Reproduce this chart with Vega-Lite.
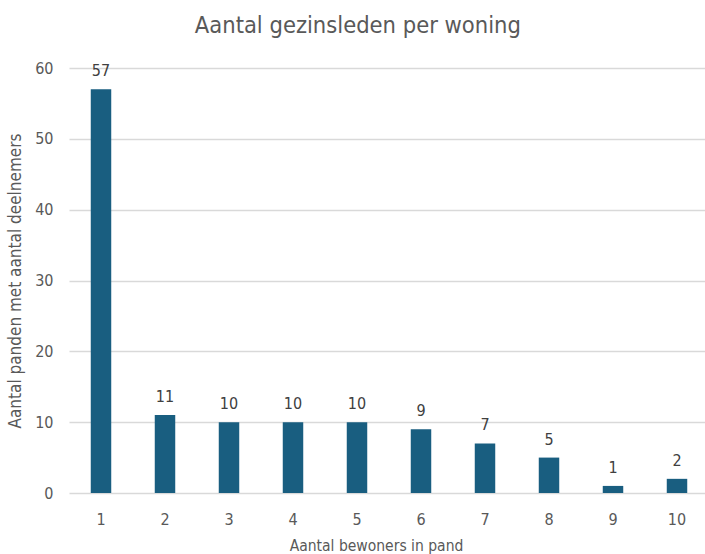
{
  "$schema": "https://vega.github.io/schema/vega-lite/v6.json",
  "width": 640,
  "height": 425,
  "autosize": "none",
  "padding": {"left": 69, "top": 68, "right": 0, "bottom": 61},
  "background": "white",
  "title": {
    "text": "Aantal gezinsleden per woning",
    "fontSize": 23.5,
    "font": "Liberation Sans Narrow, DejaVu Sans Condensed, sans-serif",
    "fontWeight": "normal",
    "color": "#595959",
    "anchor": "middle",
    "frame": "bounds",
    "offset": 23
  },
  "data": {
    "values": [
      {"bewoners": "1", "panden": 57},
      {"bewoners": "2", "panden": 11},
      {"bewoners": "3", "panden": 10},
      {"bewoners": "4", "panden": 10},
      {"bewoners": "5", "panden": 10},
      {"bewoners": "6", "panden": 9},
      {"bewoners": "7", "panden": 7},
      {"bewoners": "8", "panden": 5},
      {"bewoners": "9", "panden": 1},
      {"bewoners": "10", "panden": 2}
    ]
  },
  "encoding": {
    "x": {
      "field": "bewoners",
      "type": "ordinal",
      "sort": null,
      "title": "Aantal bewoners in pand",
      "scale": {"paddingInner": 0.68, "paddingOuter": 0.34},
      "axis": {
        "labelAngle": 0,
        "domain": false,
        "ticks": false,
        "labelPadding": 18,
        "labelFontSize": 16,
        "labelColor": "#595959",
        "labelFont": "Liberation Sans Narrow, DejaVu Sans Condensed, sans-serif",
        "titleFont": "Liberation Sans Narrow, DejaVu Sans Condensed, sans-serif",
        "titleFontSize": 15.5,
        "titleFontWeight": "normal",
        "titleColor": "#595959",
        "titlePadding": 11,
        "titleX": 307
      }
    },
    "y": {
      "field": "panden",
      "type": "quantitative",
      "title": "Aantal panden met aantal deelnemers",
      "scale": {"domain": [0, 60]},
      "axis": {
        "values": [0, 10, 20, 30, 40, 50, 60],
        "domain": false,
        "ticks": false,
        "labelPadding": 16,
        "labelFontSize": 16,
        "labelColor": "#595959",
        "labelFont": "Liberation Sans Narrow, DejaVu Sans Condensed, sans-serif",
        "titleFont": "Liberation Sans Narrow, DejaVu Sans Condensed, sans-serif",
        "titleFontSize": 17,
        "titleFontWeight": "normal",
        "titleColor": "#595959",
        "titlePadding": 10,
        "gridColor": "#d9d9d9",
        "gridWidth": 1.3
      }
    }
  },
  "layer": [
    {"mark": {"type": "bar", "color": "#195e80"}},
    {
      "mark": {
        "type": "text",
        "baseline": "bottom",
        "dy": -10,
        "fontSize": 16,
        "color": "#404040",
        "font": "Liberation Sans Narrow, DejaVu Sans Condensed, sans-serif"
      },
      "encoding": {"text": {"field": "panden", "type": "quantitative"}}
    }
  ],
  "config": {"view": {"stroke": null}}
}
